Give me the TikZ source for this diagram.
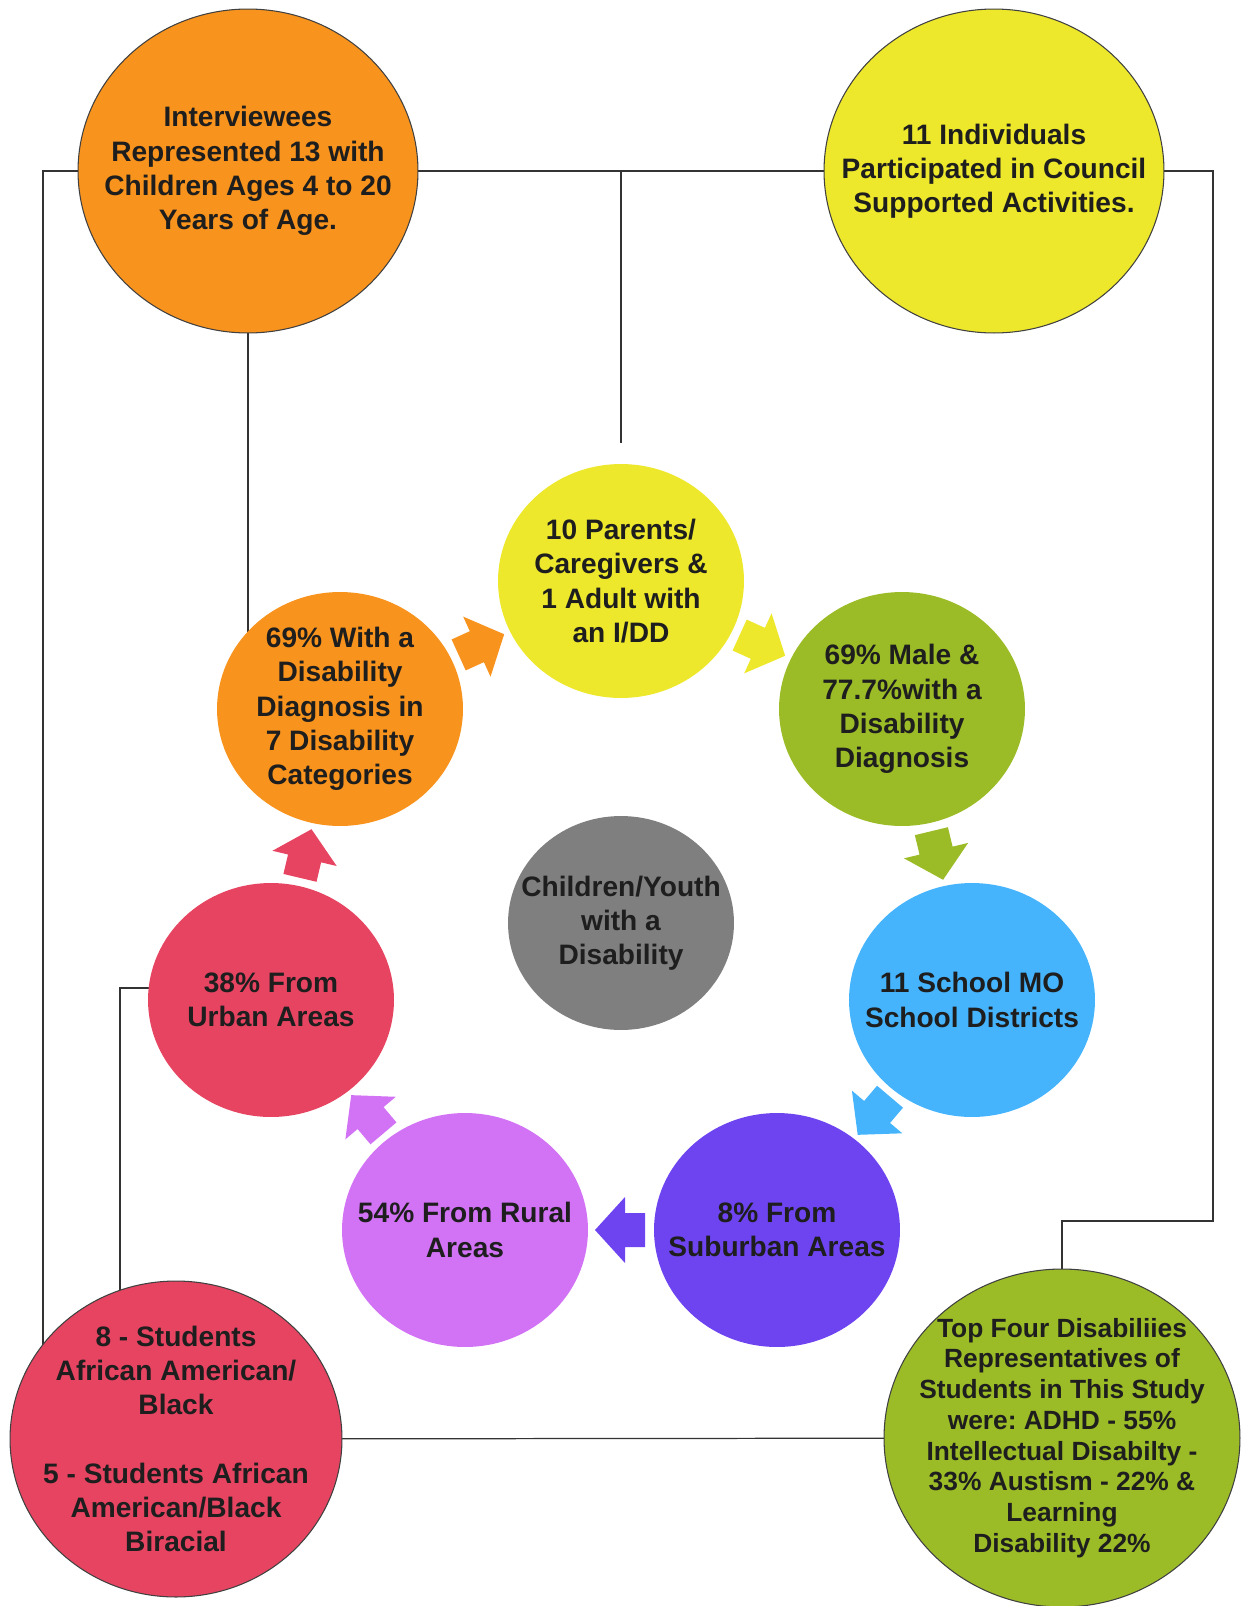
\documentclass[tikz,border=0pt]{standalone}
\usepackage{fontspec}
\setmainfont{Liberation Sans}
\usetikzlibrary{shapes.geometric,calc}
\pgfdeclarelayer{background}
\pgfsetlayers{background,main}
\definecolor{orng}{HTML}{F8931D}
\definecolor{yllw}{HTML}{EEE82C}
\definecolor{grn}{HTML}{9BBC27}
\definecolor{blu}{HTML}{45B4FD}
\definecolor{prpl}{HTML}{6E44F0}
\definecolor{lil}{HTML}{D272F5}
\definecolor{rd}{HTML}{E64461}
\definecolor{gry}{HTML}{7F7F7F}
\definecolor{ink}{HTML}{1E1E1E}
\frenchspacing

\begin{document}
\begin{tikzpicture}[x=0.02cm, y=-0.02cm,
  bub/.style={ellipse, inner sep=0pt, minimum width=4.92cm, minimum height=4.68cm},
  big/.style={ellipse, inner sep=0pt, draw=black!75, line width=0.6pt},
  txt/.style={align=center, text=ink, font=\fontsize{16}{19.5}\selectfont\bfseries},
  wire/.style={draw=black!80, line width=0.7pt}]
\useasboundingbox (0,0) rectangle (1241,1606);

\node[big, fill=orng, minimum width=6.8cm, minimum height=6.48cm] (TL) at (248,171) {};
\node[big, fill=yllw, minimum width=6.8cm, minimum height=6.48cm] (TR) at (994,171) {};
\node[big, fill=rd, minimum width=6.64cm, minimum height=6.32cm] (BL) at (176,1439) {};
\node[big, fill=grn, minimum width=7.12cm, minimum height=6.76cm] (BR) at (1062,1438) {};

\node[bub, fill=yllw] (Y) at (621,581) {};
\node[bub, fill=grn] (G) at (902,709) {};
\node[bub, fill=blu] (B) at (972,1000) {};
\node[bub, fill=prpl] (P) at (777,1230) {};
\node[bub, fill=lil] (L) at (465,1230) {};
\node[bub, fill=rd] (U) at (271,1000) {};
\node[bub, fill=orng] (O) at (340,709) {};
\node[ellipse, inner sep=0pt, fill=gry, minimum width=4.52cm, minimum height=4.28cm] (C) at (621,923) {};

\node[txt] (TLt) at (TL) {Interviewees\\Represented 13 with\\Children Ages 4 to 20\\Years of Age.};
\node[txt] (TRt) at (TR) {11 Individuals\\Participated in Council\\Supported Activities.};
\node[txt] (BLt) at (BL) {8 - Students\\African American/\\Black\\[19.5pt]5 - Students African\\American/Black\\Biracial};
\node[txt, font=\fontsize{15}{17.5}\selectfont\bfseries] (BRt) at (BR) {Top Four Disabiliies\\Representatives of\\Students in This Study\\were: ADHD - 55\%\\Intellectual Disabilty -\\33\% Austism - 22\% \&\\Learning\\Disability 22\%};

\node[txt] (Yt) at (Y) {10 Parents/\\Caregivers \&\\1 Adult with\\an I/DD};
\node[txt] (Gt) at (G) {69\% Male \&\\77.7\%with a\\Disability\\Diagnosis};
\node[txt] (Bt) at (B) {11 School MO\\School Districts};
\node[txt] (Pt) at (P) {8\% From\\Suburban Areas};
\node[txt] (Lt) at (L) {54\% From Rural\\Areas};
\node[txt] (Ut) at (U) {38\% From\\Urban Areas};
\node[txt] (Ot) at (O) {69\% With a\\Disability\\Diagnosis in\\7 Disability\\Categories};
\node[txt] (Ct) at (C) {Children/Youth\\with a\\Disability};

\coordinate (ytop) at ($(Y.north)+(0,-21)$);
\coordinate (bend) at (1213,1221);

\begin{pgfonlayer}{background}
\draw[wire] (TL.center) -- (TR.center);
\draw[wire] (TL.center) -| ($(BL.center)+(-133,0)$);
\draw[wire] (TR.center) -| (bend) -| (BR.center);
\draw[wire] (ytop) -- (ytop |- TL.center);
\draw[wire] (TL.center) -- (TL.center |- O.center);
\draw[wire] ([yshift=0.24cm]U.center) -| ($(BL.center)+(-56,0)$);
\draw[wire] (BL.center) -- (BR.center);
\end{pgfonlayer}

\foreach \a/\b/\c in {O/Y/orng, Y/G/yllw, G/B/grn, B/P/blu, P/L/prpl, L/U/lil, U/O/rd}{
  \pgfmathanglebetweenpoints{\pgfpointanchor{\a}{center}}{\pgfpointanchor{\b}{center}}
  \edef\ang{\pgfmathresult}
  \begin{scope}[shift={($(\a)!0.5!(\b)$)}, rotate=\ang]
    \fill[\c] (-24,17) -- (-4,17) -- (-4,33) -- (26,0) -- (-4,-33) -- (-4,-17) -- (-24,-17) -- cycle;
  \end{scope}
}
\end{tikzpicture}
\end{document}
